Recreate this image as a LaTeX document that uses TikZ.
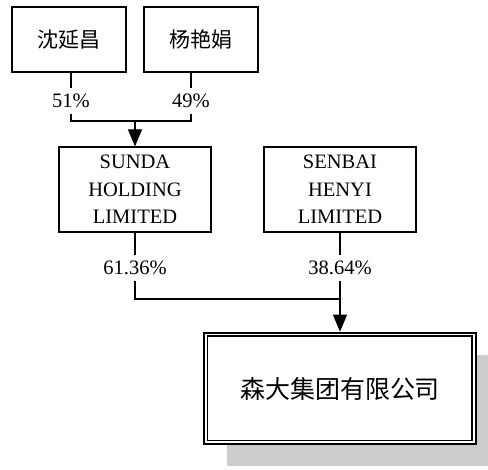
\documentclass[tikz,border=0pt]{standalone}
\usepackage{fontspec}
\setmainfont{Liberation Serif}
\newfontfamily\cjk{Noto Sans CJK SC}
\usetikzlibrary{arrows.meta}
\usetikzlibrary{shadows}

\tikzset{
  box/.style={draw, line width=1.2pt, inner sep=0pt, align=center,
    font=\fontsize{20.5}{27.5}\selectfont},
  person/.style={box, minimum width=114pt, minimum height=65pt,
    font=\cjk\fontsize{21}{25}\selectfont},
  holder/.style={box, minimum width=152pt, minimum height=85pt},
  pct/.style={inner xsep=0pt, inner ysep=5pt, text height=14pt, text depth=0pt,
    font=\fontsize{20.5}{24}\selectfont},
  arr/.style={-{Triangle[length=17pt,width=14pt]}},
}

\begin{document}
\begin{tikzpicture}[x=1pt, y=-1pt, line width=1.2pt]
\useasboundingbox (0,0) rectangle (488,470);
\clip (0,0) rectangle (488,470);
%% 股东
\node[person] (p1) at (69,39.5) {沈延昌};
\node[person] (p2) at (201,39.5) {杨艳娟};
\node[pct] (s1) at (71,101) {51\%};
\node[pct] (s2) at (191,101) {49\%};
\coordinate (j1) at (135,121);
\draw (s1 |- p1.south) -- (s1.north);
\draw (s1.south) |- (j1);
\draw (s2 |- p2.south) -- (s2.north);
\draw (s2.south) |- (j1);
%% 持股公司
\node[holder] (h1) at (135,189.5) {SUNDA\\HOLDING\\LIMITED};
\node[holder] (h2) at (340,189.5) {SENBAI\\HENYI\\LIMITED};
\draw[arr] (j1) -- (h1.north);
\node[pct] (s3) at (135,268) {61.36\%};
\node[pct] (s4) at (340,268) {38.64\%};
\coordinate (j2) at (340,299);
\draw (h1.south) -- (s3.north);
\draw (s3.south) |- (j2);
\draw (h2.south) -- (s4.north);
\draw (s4.south) -- (j2);
%% 公司
\node[draw, line width=2.6pt, minimum width=272pt, minimum height=111pt,
  inner sep=0pt, fill=white,
  drop shadow={shadow xshift=23pt, shadow yshift=-22pt, fill=black!20, opacity=1},
  font=\cjk\fontsize{25}{30}\selectfont] (big) at (340,388.5) {森大集团有限公司};
\draw[line width=1.4pt] ([shift={(5pt,-4.5pt)}]big.north west)
  rectangle ([shift={(-5.5pt,5pt)}]big.south east);
\draw[arr] (j2) -- (big.north);
\end{tikzpicture}
\end{document}
